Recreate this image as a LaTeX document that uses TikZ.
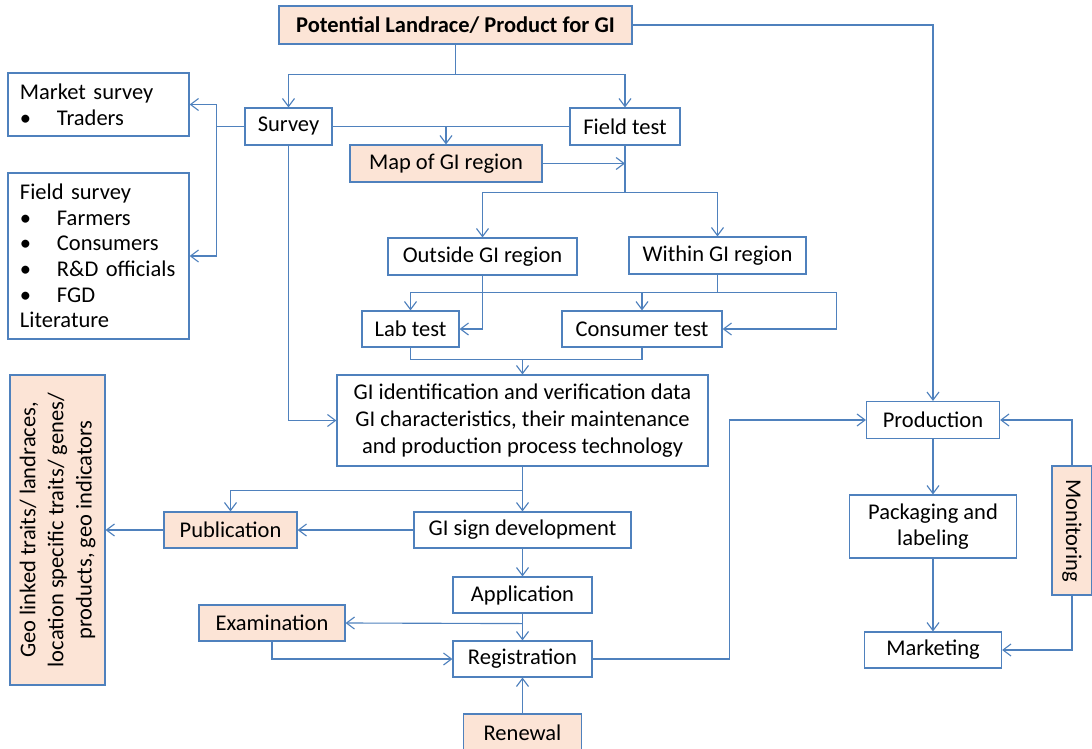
\documentclass[tikz,border=0pt]{standalone}
\usepackage{fontspec}
\setmainfont{Carlito}
\usetikzlibrary{arrows.meta,positioning}
\definecolor{lineblue}{RGB}{79,129,189}
\definecolor{peach}{RGB}{252,228,214}
\tikzset{
  blk/.style={draw=lineblue,line width=0.8pt,fill=white,align=center,font=\fontsize{16}{19}\selectfont,inner sep=2pt},
  hl/.style={blk,fill=peach},
  lst/.style={blk,align=left,inner xsep=0.3cm,font=\fontsize{16}{18.2}\selectfont},
  ln/.style={lineblue,line width=0.8pt},
  ar/.style={ln,-{Straight Barb[length=2mm,width=3mm]}},
}
\newcommand{\itm}{\makebox[0.925cm][l]{\textbullet}}

\begin{document}
\begin{tikzpicture}[x=0.025cm,y=-0.025cm]
  \useasboundingbox (0,0) rectangle (1092,749);
  % top row
  \node[hl,font=\fontsize{16}{19}\selectfont\bfseries,minimum width=8.825cm,minimum height=0.95cm] (top) at (455.5,25) {Potential Landrace/ Product for GI};
  \node[lst,text width=3.925cm,minimum height=1.575cm] (mkt) at (98.5,104.5) {Market survey\\\itm Traders};
  \node[lst,text width=3.925cm,minimum height=4.15cm] (fsv) at (98.5,256) {Field survey\\\itm Farmers\\\itm Consumers\\\itm R\&D officials\\\itm FGD\\Literature};
  \node[blk,minimum width=2.175cm,minimum height=0.925cm] (survey) at (288.5,126.5) {Survey};
  \node[blk,minimum width=2.75cm,minimum height=0.925cm] (field) at (625,126.5) {Field test};
  \node[hl,minimum width=4.8cm,minimum height=0.925cm] (map) at (446,163.5) {Map of GI region};
  % regions and tests
  \node[blk,minimum width=4.725cm,minimum height=0.925cm] (outside) at (482.5,256.5) {Outside GI region};
  \node[blk,minimum width=4.425cm,minimum height=0.925cm] (within) at (717.5,255.5) {Within GI region};
  \node[blk,minimum width=2.425cm,minimum height=0.9cm] (lab) at (410.5,329) {Lab test};
  \node[blk,minimum width=4cm,minimum height=0.9cm] (cons) at (642,329) {Consumer test};
  \node[blk,minimum width=9.275cm,minimum height=2.275cm] (ident) at (522.5,420.5) {GI identification and verification data\\GI characteristics, their maintenance\\and production process technology};
  % registration chain
  \node[hl,minimum width=3.325cm,minimum height=0.9cm] (pub) at (230.5,530) {Publication};
  \node[blk,minimum width=5.425cm,minimum height=0.9cm] (sign) at (522.5,530) {GI sign development};
  \node[blk,minimum width=3.475cm,minimum height=0.9cm] (app) at (522.5,595) {Application};
  \node[hl,minimum width=3.65cm,minimum height=0.9cm] (exam) at (272,623) {Examination};
  \node[blk,minimum width=3.475cm,minimum height=0.9cm] (reg) at (522.5,659) {Registration};
  \node[hl,minimum width=2.95cm,minimum height=0.95cm] (renew) at (522.5,733) {Renewal};
  % right column
  \node[blk,minimum width=3.325cm,minimum height=0.925cm] (prod) at (933,420) {Production};
  \node[blk,minimum width=4.175cm,minimum height=1.575cm] (pack) at (933,526.5) {Packaging and\\labeling};
  \node[blk,minimum width=3.425cm,minimum height=0.9cm] (mark) at (933,650) {Marketing};
  % rotated boxes
  \node[hl,rotate=90,font=\fontsize{16}{20}\selectfont,minimum width=7.75cm,minimum height=2.375cm] (geo) at (57.5,530) {Geo linked traits/ landraces,\\location specific traits/ genes/\\products, geo indicators};
  \node[hl,rotate=-90,minimum width=3.225cm,minimum height=1cm] (moni) at (1072,530.5) {Monitoring};

  % connectors
  \draw[ln] (top.south) -- ++(0,30) coordinate (j1);
  \draw[ar] (j1) -| (survey.north);
  \draw[ar] (j1) -| (field.north);
  \draw[ar] (top.east) -| (prod.north);
  \draw[ln] (survey.west) -- ++(-28,0) coordinate (j2);
  \draw[ar] (j2) |- (mkt.east);
  \draw[ar] (j2) |- (fsv.east);
  \draw[ln] (survey.east) -- (field.west);
  \draw[ar] (map.north |- survey.east) -- (map.north);
  \draw[ar] (map.east) -- (map.east -| field.south);
  \draw[ln] (field.south) -- ++(0,47) coordinate (j3);
  \draw[ar] (j3) -| (outside.north);
  \draw[ar] (j3) -| (within.north);
  \draw[ar] (outside.south) |- (lab.east);
  \draw[ln] (within.south) -- ++(0,18) coordinate (j4);
  \draw[ar] (j4) -| (lab.north);
  \draw[ar] (j4) -| (cons.north);
  \draw[ar] (j4) -- ++(119,0) |- (cons.east);
  \draw[ln] (lab.south) -- ++(0,12) coordinate (j5) -| (cons.south);
  \draw[ar] (j5 -| ident.north) -- (ident.north);
  \draw[ar] (survey.south) |- (ident.west);
  \draw[ar] (ident.south) -- (sign.north);
  \path (ident.south) -- ++(0,24) coordinate (j6);
  \draw[ar] (j6) -| (pub.north);
  \draw[ar] (sign.west) -- (pub.east);
  \draw[ar] (pub.west) -- (pub.west -| geo.south);
  \draw[ar] (sign.south) -- (app.north);
  \draw[ar] (app.south) -- (reg.north);
  \draw[ar] (app.south) ++(0,10) coordinate (j7) -- (exam.east);
  \draw[ar] (exam.south) |- (reg.west);
  \draw[ar] (renew.north) -- (reg.south);
  \draw[ar] (reg.east) -- ++(137,0) |- (prod.west);
  \draw[ar] (prod.south) -- (pack.north);
  \draw[ar] (pack.south) -- (mark.north);
  \draw[ar] (moni.west) |- (prod.east);
  \draw[ar] (moni.east) |- (mark.east);
\end{tikzpicture}
\end{document}
